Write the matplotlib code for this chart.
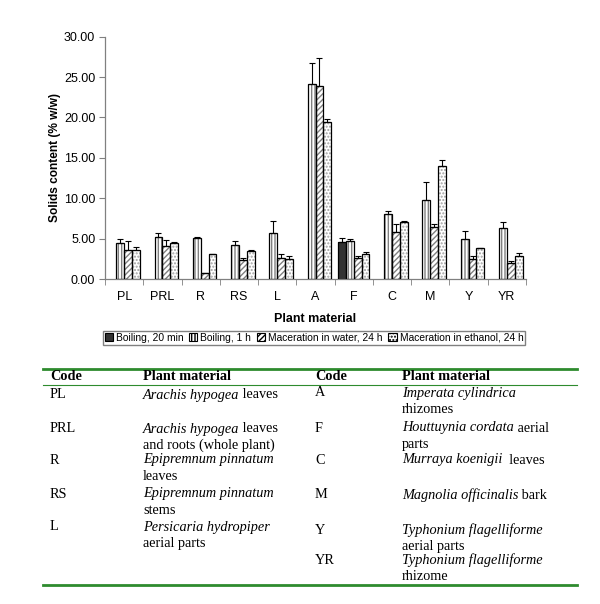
import numpy as np
import matplotlib
matplotlib.use('Agg')
from matplotlib import pyplot as plt
from matplotlib.patches import Patch

# Solids content (% w/w) per plant material and extraction method
codes = ['PL', 'PRL', 'R', 'RS', 'L', 'A', 'F', 'C', 'M', 'Y', 'YR']
boil20 = [np.nan, np.nan, np.nan, np.nan, np.nan, np.nan, 4.6, np.nan, np.nan, np.nan, np.nan]
boil20_err = [0, 0, 0, 0, 0, 0, 0.45, 0, 0, 0, 0]
boil1h = [4.4, 5.25, 5.1, 4.15, 5.75, 24.2, 4.65, 8.1, 9.8, 4.95, 6.3]
boil1h_err = [0.6, 0.45, 0.05, 0.6, 1.45, 2.5, 0.35, 0.3, 2.15, 1.05, 0.8]
water = [3.55, 4.1, 0.7, 2.3, 2.65, 23.95, 2.65, 5.8, 6.5, 2.5, 1.95]
water_err = [1.1, 0.7, 0.08, 0.35, 0.5, 3.4, 0.25, 1.05, 0.35, 0.38, 0.28]
ethanol = [3.6, 4.4, 3.05, 3.5, 2.45, 19.4, 3.15, 7.0, 14.0, 3.8, 2.8]
ethanol_err = [0.35, 0.2, 0.05, 0.15, 0.45, 0.35, 0.15, 0.2, 0.75, 0, 0.45]

series = ['Boiling, 20 min', 'Boiling, 1 h', 'Maceration in water, 24 h', 'Maceration in ethanol, 24 h']

# table of codes
left_rows = [
    ('PL', [('Arachis hypogea', ' leaves')]),
    ('PRL', [('Arachis hypogea', ' leaves'), ('', 'and roots (whole plant)')]),
    ('R', [('Epipremnum pinnatum', ''), ('', 'leaves')]),
    ('RS', [('Epipremnum pinnatum', ''), ('', 'stems')]),
    ('L', [('Persicaria hydropiper', ''), ('', 'aerial parts')]),
]
right_rows = [
    ('A', [('Imperata cylindrica', ''), ('', 'rhizomes')]),
    ('F', [('Houttuynia cordata', ' aerial'), ('', 'parts')]),
    ('C', [('Murraya koenigii', '  leaves')]),
    ('M', [('Magnolia officinalis', ' bark')]),
    ('Y', [('Typhonium flagelliforme', ''), ('', 'aerial parts')]),
    ('YR', [('Typhonium flagelliforme', ''), ('', 'rhizome')]),
]
left_y = [395, 429, 460, 494, 527]
right_y = [393, 428, 460, 495, 530, 560]

plt.rcParams['font.family'] = 'Liberation Sans'

W, H = 600, 604
fig = plt.figure(figsize=(6, 6.04), dpi=100)
ax = fig.add_axes([105 / W, 1 - 279 / H, 421 / W, (279 - 36.7) / H])

x = np.arange(len(codes))
w = 0.205
data = [(boil20, boil20_err), (boil1h, boil1h_err), (water, water_err), (ethanol, ethanol_err)]
faces = ['#333333', 'white', 'white', 'white']
hatches = [None, '|||||', '//////', '.....']
hcolors = ['#333333', '#808080', '#808080', '#a0a0a0']

for k, (vals, err) in enumerate(data):
    pos = x + (k - 1.5) * w
    vals = np.array(vals, dtype=float)
    err = np.array(err, dtype=float)
    ax.bar(pos, vals, w, color=faces[k], hatch=hatches[k], edgecolor=hcolors[k], linewidth=0, zorder=2)
    ax.bar(pos, vals, w, fill=False, edgecolor='black', linewidth=0.9, zorder=3)
    ok = ~np.isnan(vals)
    ax.errorbar(pos[ok], vals[ok], yerr=[np.zeros(ok.sum()), err[ok]], fmt='none',
                ecolor='black', elinewidth=0.8, capsize=2.5, capthick=0.8, zorder=4)

ax.set_xlim(-0.5, len(codes) - 0.5)
ax.set_ylim(0, 30)
ax.set_yticks(np.arange(0, 31, 5))
ax.set_yticklabels(['%.2f' % v for v in np.arange(0, 31, 5)], fontsize=9)
ax.set_xticks(x)
ax.set_xticklabels(codes, fontsize=9)
ax.set_xticks(np.arange(-0.5, len(codes)), minor=True)
ax.tick_params(axis='x', which='major', length=0, pad=9)
ax.tick_params(axis='x', which='minor', length=4, color='#808080', direction='out')
ax.tick_params(axis='y', length=4, color='#808080', pad=3)
for s in ['top', 'right']:
    ax.spines[s].set_visible(False)
for s in ['left', 'bottom']:
    ax.spines[s].set_color('#808080')
    ax.spines[s].set_linewidth(0.9)

ax.set_xlabel('Plant material', fontsize=9, fontweight='bold', labelpad=7)
ax.set_ylabel('Solids content (% w/w)', fontsize=8.6, fontweight='bold', labelpad=2)

handles = []
for k in range(4):
    handles.append(Patch(facecolor=faces[k], hatch=hatches[k], edgecolor='black', linewidth=0.8))
fig.legend(handles, series, loc='center', bbox_to_anchor=(314 / W, 1 - 338 / H), ncol=4,
           fontsize=7.4, frameon=True, fancybox=False, edgecolor='#606060', handlelength=0.8,
           handleheight=0.8, handletextpad=0.3, columnspacing=0.55, borderpad=0.15,
           borderaxespad=0)

# table drawn in pixel coordinates
tax = fig.add_axes([0, 0, 1, 1], zorder=-1)
tax.axis('off')
tax.set_xlim(0, W)
tax.set_ylim(H, 0)

green = '#2e8b2e'
tax.plot([43, 577], [368.5, 368.5], color=green, lw=2.0)
tax.plot([43, 577], [385, 385], color=green, lw=0.8)
tax.plot([43, 577], [585, 585], color=green, lw=2.0)

serif = 'Liberation Serif'
fs = 10.3
for cx, px in [(50, 143), (315, 402)]:
    tax.text(cx, 377, 'Code', family=serif, fontsize=fs, fontweight='bold', va='center')
    tax.text(px, 377, 'Plant material', family=serif, fontsize=fs, fontweight='bold', va='center')


def draw_rows(rows, ys, cx, px):
    for (code, lines), y in zip(rows, ys):
        tax.text(cx, y, code, family=serif, fontsize=fs, va='center')
        for j, (ital, rest) in enumerate(lines):
            yy = y + j * 16.5
            if ital:
                t = tax.text(px, yy, ital, family=serif, fontsize=fs, style='italic', va='center')
                if rest:
                    tax.annotate(rest, xy=(1, 0), xycoords=t, va='bottom', ha='left',
                                 family=serif, fontsize=fs)
            else:
                tax.text(px, yy, rest, family=serif, fontsize=fs, va='center')


draw_rows(left_rows, left_y, 50, 143)
draw_rows(right_rows, right_y, 315, 402)

fig.savefig('out.png', dpi=100)
